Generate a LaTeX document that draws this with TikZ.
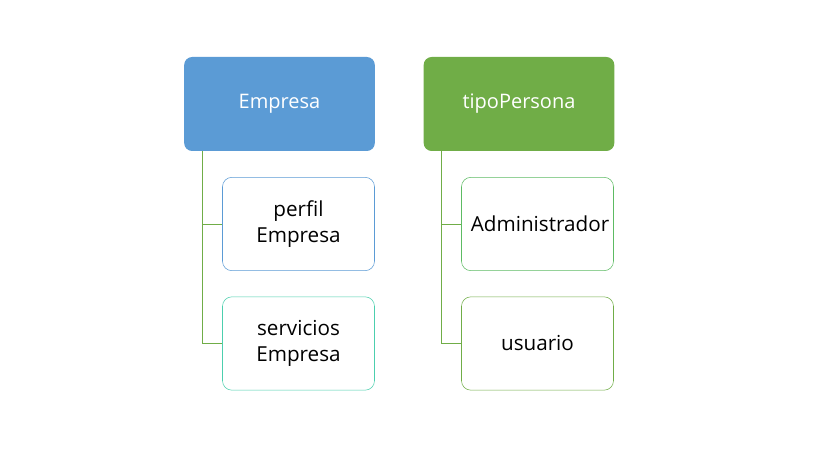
\documentclass[tikz,border=0pt]{standalone}
\usepackage{fontspec}
\setmainfont{Open Sans}
\usepackage{xcolor}
\usepackage{tikz}
\usetikzlibrary{positioning}

\definecolor{azul}{HTML}{5B9BD5}
\definecolor{verde}{HTML}{70AD47}
\definecolor{turquesa}{HTML}{4CCFAE}
\definecolor{verdeclaro}{HTML}{5DBB63}

\begin{document}
\begin{tikzpicture}[x=0.75pt,y=-0.75pt,
  padre/.style={rectangle,rounded corners=6pt,minimum width=143pt,minimum height=70.5pt,
    text=white,font=\fontsize{15}{18}\selectfont},
  hijo/.style={rectangle,draw,rounded corners=7pt,minimum width=114pt,minimum height=70pt,
    fill=white,text width=100pt,align=center,font=\fontsize{15.5}{19.5}\selectfont},
  conn/.style={draw=verde,line width=0.6pt}]
\useasboundingbox (0,0) rectangle (819,460);
\node[padre,fill=azul]  (emp)  at (279.5,104) {Empresa};
\node[padre,fill=verde] (tipo) at (519,104)   {tipoPersona};
\node[hijo,draw=azul]       (perfil) at (298.5,224) {perfil\\Empresa};
\node[hijo,draw=turquesa]   (serv)   at (298.5,343.5) {servicios\\Empresa};
\node[hijo,draw=verdeclaro] (admin)  at (537.5,224) {Administrador};
\node[hijo,draw=verde]      (usu)    at (537.5,343.5) {usuario};
\draw[conn] ([xshift=13.5pt]emp.south west) |- (perfil.west);
\draw[conn] ([xshift=13.5pt]emp.south west) |- (serv.west);
\draw[conn] ([xshift=13.5pt]tipo.south west) |- (admin.west);
\draw[conn] ([xshift=13.5pt]tipo.south west) |- (usu.west);
\end{tikzpicture}
\end{document}
